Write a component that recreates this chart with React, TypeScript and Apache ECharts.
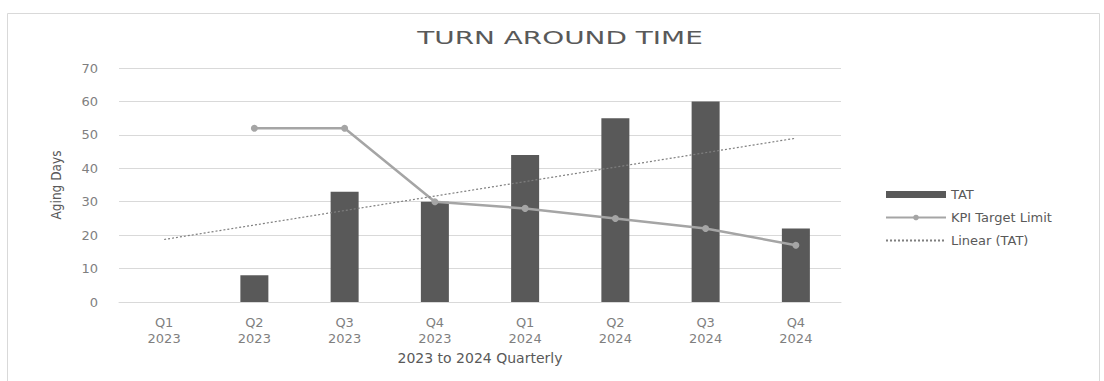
import React, { useEffect, useRef } from "react";
import * as echarts from "echarts";

const categories = ["Q1\n2023", "Q2\n2023", "Q3\n2023", "Q4\n2023", "Q1\n2024", "Q2\n2024", "Q3\n2024", "Q4\n2024"];
const tatValues: (number | null)[] = [null, 8, 33, 30, 44, 55, 60, 22];
const kpiValues: (number | null)[] = [null, 52, 52, 30, 28, 25, 22, 17];
// Linear trend line of TAT at its two ends (first and last category)
const trendPoints: [number, number][] = [[0, 18.7], [7, 49]];

const FONT = "DejaVu Sans";

export default function App() {
  const ref = useRef<HTMLDivElement>(null);
  useEffect(() => {
    if (!ref.current) return;
    const chart = echarts.init(ref.current, undefined, { renderer: "svg" });
    chart.setOption({
      animation: false,
      backgroundColor: "#ffffff",
      textStyle: { fontFamily: FONT },
      graphic: [
        {
          type: "rect",
          shape: { x: 7.5, y: 13.5, width: 1092, height: 380 },
          style: { fill: "none", stroke: "#d9d9d9", lineWidth: 1 },
          silent: true,
          z: -1,
        },
        {
          type: "text",
          x: 560,
          y: 38,
          scaleX: 1.55,
          style: {
            text: "TURN AROUND TIME",
            fontFamily: FONT,
            fontSize: 18,
            fill: "#595959",
            align: "center",
            verticalAlign: "middle",
          },
        },
      ],
      grid: { left: 119, right: 263, top: 68, bottom: 79 },
      legend: {
        orient: "vertical",
        left: 880,
        top: 183,
        itemWidth: 60,
        itemHeight: 7,
        itemGap: 10,
        textStyle: { color: "#595959", fontSize: 13, fontFamily: FONT },
        data: [
          { name: "TAT", icon: "rect" },
          { name: "KPI Target Limit" },
          { name: "Linear (TAT)", itemStyle: { opacity: 0 } },
        ],
      },
      xAxis: {
        type: "category",
        data: categories,
        name: "2023 to 2024 Quarterly",
        nameLocation: "middle",
        nameGap: 48,
        nameTextStyle: { color: "#595959", fontSize: 14, fontFamily: FONT },
        axisLine: { lineStyle: { color: "#d9d9d9" } },
        axisTick: { show: false },
        axisLabel: { color: "#7f7f7f", fontSize: 13, lineHeight: 16, margin: 12, fontFamily: FONT },
      },
      yAxis: {
        type: "value",
        min: 0,
        max: 70,
        interval: 10,
        name: "Aging Days",
        nameLocation: "middle",
        nameGap: 56,
        nameTextStyle: { color: "#595959", fontSize: 13.5, fontFamily: "DejaVu Sans Condensed" },
        axisLine: { show: false },
        axisTick: { show: false },
        axisLabel: { color: "#7f7f7f", fontSize: 13, margin: 21, fontFamily: FONT },
        splitLine: { lineStyle: { color: "#d9d9d9" } },
      },
      series: [
        {
          name: "TAT",
          type: "bar",
          data: tatValues,
          barWidth: 28,
          itemStyle: { color: "#595959" },
        },
        {
          name: "KPI Target Limit",
          type: "line",
          data: kpiValues,
          symbol: "circle",
          symbolSize: 7,
          lineStyle: { color: "#a5a5a5", width: 2.5 },
          itemStyle: { color: "#a5a5a5" },
          z: 3,
        },
        {
          name: "Linear (TAT)",
          type: "line",
          data: trendPoints,
          symbol: "none",
          lineStyle: { color: "#7f7f7f", width: 1.2, type: [2, 2] },
          itemStyle: { color: "#7f7f7f" },
          z: 4,
        },
      ],
    });
    return () => chart.dispose();
  }, []);
  return (
    <div
      ref={ref}
      style={{ position: "fixed", left: 0, top: 0, width: 1104, height: 381 }}
    />
  );
}
